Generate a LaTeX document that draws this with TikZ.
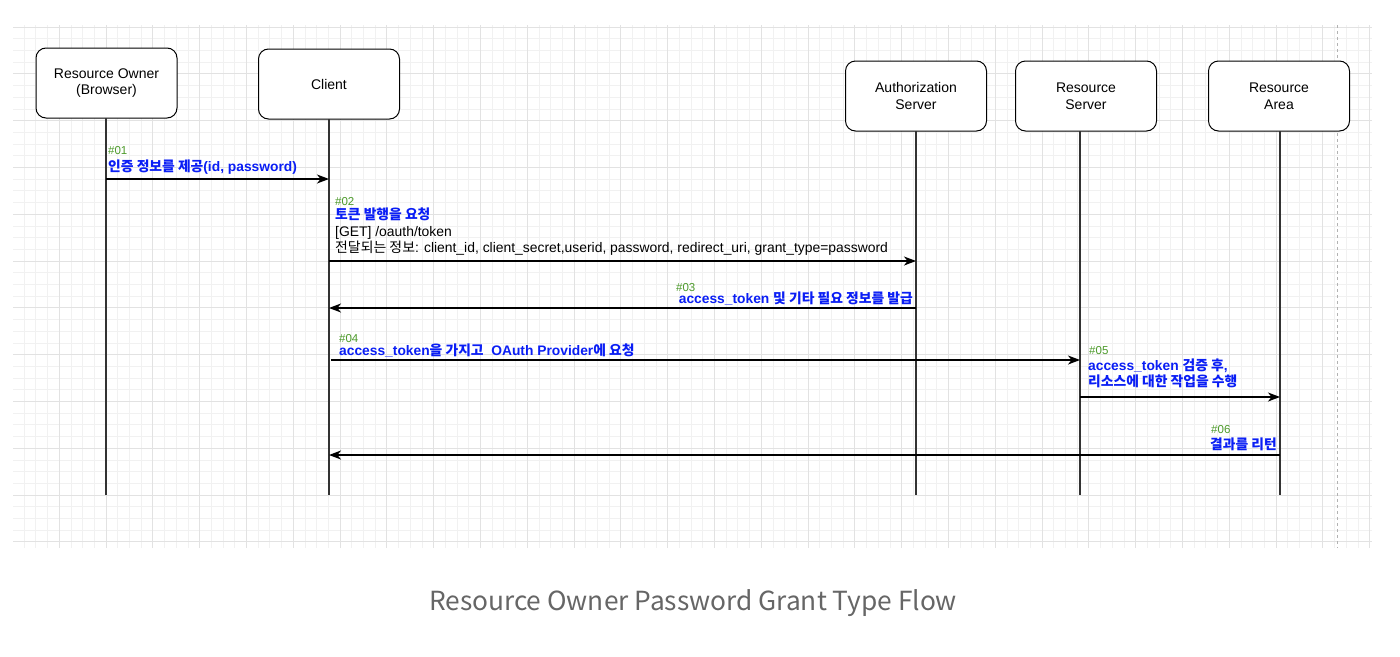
\documentclass[tikz,border=0pt]{standalone}
\usepackage{fontspec}
\setmainfont{Liberation Sans}
\newfontfamily\hangul{Noto Sans CJK KR}
\newfontfamily\capfont{Noto Sans CJK KR}
\usetikzlibrary{arrows.meta}
\newcommand\hg[1]{{\hangul #1}}
\definecolor{myblue}{HTML}{0A1EF5}
\definecolor{mygreen}{HTML}{4C9A2A}
\definecolor{gridmin}{HTML}{F1F1F1}
\definecolor{gridmaj}{HTML}{E2E2E2}
\definecolor{capgray}{HTML}{666666}
\tikzset{
  actor/.style={draw=black, line width=1pt, rounded corners=10pt, fill=white,
    minimum width=141pt, minimum height=70pt, align=center, inner sep=0pt,
    font=\fontsize{14}{16.5}\selectfont},
  life/.style={draw=black!80, line width=1.3pt},
  msg/.style={draw=black, line width=1.3pt, -{Stealth[length=12pt,width=9pt,inset=3.5pt]}},
  num/.style={font=\fontsize{11.5}{13}\selectfont, text=mygreen, inner sep=0pt},
  lbl/.style={font=\fontsize{13.8}{16}\selectfont\bfseries, text=myblue, inner sep=0pt},
  plain/.style={font=\fontsize{13.9}{16}\selectfont, text=black, inner sep=0pt},
  gmin/.style={draw=gridmin, line width=0.8pt},
  gmaj/.style={draw=gridmaj, line width=1pt},
}
\begin{document}
\begin{tikzpicture}[x=1pt,y=-1pt]
\useasboundingbox (0,0) rectangle (1400,656);
\fill[white] (0,0) rectangle (1400,656);
% grid
\foreach \k in {-7,...,108}{
  \pgfmathtruncatemacro\m{mod(\k+400,4)}
  \ifnum\m=0\relax\else\draw[gmin] ({106+11.7*\k},25) -- ({106+11.7*\k},548);\fi
}
\foreach \k in {-40,...,4}{
  \pgfmathtruncatemacro\m{mod(\k+400,4)}
  \ifnum\m=0\relax\else\draw[gmin] (13,{495+11.7*\k}) -- (1372,{495+11.7*\k});\fi
}
\foreach \k in {-7,...,108}{
  \pgfmathtruncatemacro\m{mod(\k+400,4)}
  \ifnum\m=0\draw[gmaj] ({106+11.7*\k},25) -- ({106+11.7*\k},548);\fi
}
\foreach \k in {-40,...,4}{
  \pgfmathtruncatemacro\m{mod(\k+400,4)}
  \ifnum\m=0\draw[gmaj] (13,{495+11.7*\k}) -- (1372,{495+11.7*\k});\fi
}
\draw[draw=black!30, line width=0.8pt, dashed] (1337,25) -- (1337,548);

% actors
\node[actor] (ro) at (106.5,83) {Resource Owner\\(Browser)};
\node[actor] (cl) at (329,84) {Client};
\node[actor] (as) at (916,96) {Authorization\\Server};
\node[actor] (rs) at (1086,96) {Resource\\Server};
\node[actor] (ra) at (1279,96) {Resource\\Area};

% lifeline ends
\coordinate (roT) at (106,118);
\coordinate (roB) at (106,495);
\coordinate (clT) at (329,119);
\coordinate (clB) at (329,495);
\coordinate (asT) at (916,131);
\coordinate (asB) at (916,495);
\coordinate (rsT) at (1080,131);
\coordinate (rsB) at (1080,495);
\coordinate (raT) at (1280,131);
\coordinate (raB) at (1280,495);
\draw[life] (roT) -- (roB);
\draw[life] (clT) -- (clB);
\draw[life] (asT) -- (asB);
\draw[life] (rsT) -- (rsB);
\draw[life] (raT) -- (raB);

% message end points
\coordinate (m1a) at (106,179);  \coordinate (m1b) at (329,179);
\coordinate (m2a) at (329,261);  \coordinate (m2b) at (916,261);
\coordinate (m3a) at (916,308);  \coordinate (m3b) at (329,308);
\coordinate (m4a) at (331,360);  \coordinate (m4b) at (1080,360);
\coordinate (m5a) at (1080,397); \coordinate (m5b) at (1280,397);
\coordinate (m6a) at (1280,455); \coordinate (m6b) at (329,455);
\draw[msg] (m1a) -- (m1b);
\draw[msg] (m2a) -- (m2b);
\draw[msg] (m3a) -- (m3b);
\draw[msg] (m4a) -- (m4b);
\draw[msg] (m5a) -- (m5b);
\draw[msg] (m6a) -- (m6b);

% labels
\node[num, anchor=base west] (n1) at (108,154) {\#01};
\node[lbl, anchor=base west] (t1) at (108,171) {\hg{인증 정보를 제공}(id, password)};

\node[num, anchor=base west] (n2) at (335,205) {\#02};
\node[lbl, anchor=base west] (t2) at (335,219) {\hg{토큰 발행을 요청}};
\node[plain, anchor=base west] (t2b) at (335,236) {[GET] /oauth/token};
\node[plain, anchor=base west] (t2c) at (335,252) {\hg{전달되는 정보}: client\_id, client\_secret,userid, password, redirect\_uri, grant\_type=password};

\node[num, anchor=base west] (n3) at (676,291) {\#03};
\node[lbl, anchor=base east] (t3) at (913,303) {access\_token \hg{및 기타 필요 정보를 발급}};

\node[num, anchor=base west] (n4) at (339,342) {\#04};
\node[lbl, anchor=base west] (t4) at (339,355) {access\_token\hg{을 가지고}\ \ OAuth Provider\hg{에 요청}};

\node[num, anchor=base west] (n5) at (1089,354) {\#05};
\node[lbl, anchor=base west] (t5) at (1088,370) {access\_token \hg{검증 후},};
\node[lbl, anchor=base west] (t5b) at (1088,386) {\hg{리소스에 대한 작업을 수행}};

\node[num, anchor=base west] (n6) at (1211,433) {\#06};
\node[lbl, anchor=base east] (t6) at (1277,449) {\hg{결과를 리턴}};

% caption
\node[font=\capfont\fontsize{26.3}{30}\selectfont, text=capgray, anchor=base, inner sep=0pt] (cap) at (693,610) {Resource Owner Password Grant Type Flow};
\end{tikzpicture}
\end{document}
